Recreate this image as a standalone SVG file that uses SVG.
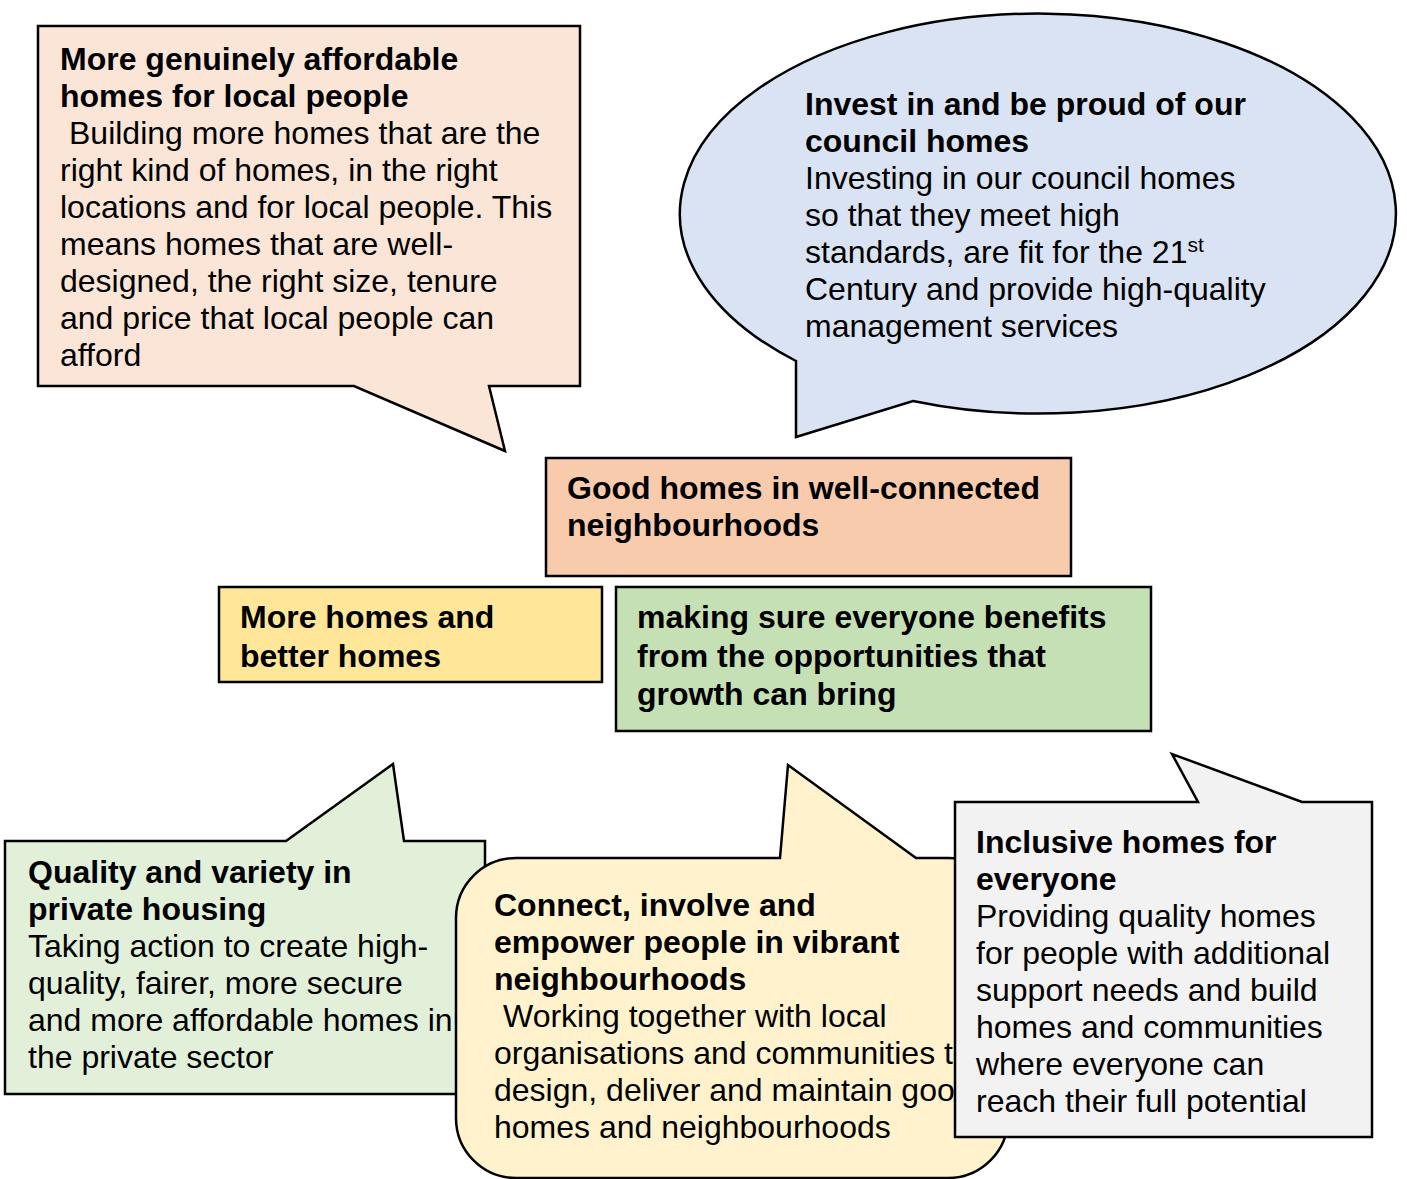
<svg xmlns="http://www.w3.org/2000/svg" width="1407" height="1179" viewBox="0 0 1407 1179">
  <style>
    .shape { stroke: #000; stroke-width: 2.5; stroke-linejoin: miter; }
    .t { font-family: "Liberation Sans", Arial, sans-serif; font-size: 32px; fill: #000; }
    .b { font-weight: bold; }
  </style>
  <rect width="1407" height="1179" fill="#fff"/>

  <!-- callout: affordable homes -->
  <g id="affordable-homes">
    <path class="shape" fill="#FBE5D6" d="M38,26 L580,26 L580,386 L489,386 L505,451 L354,386 L38,386 Z"/>
    <text class="t b" x="60" y="70">More genuinely affordable</text>
    <text class="t b" x="60" y="107">homes for local people</text>
    <text class="t" x="69" y="144">Building more homes that are the</text>
    <text class="t" x="60" y="181">right kind of homes, in the right</text>
    <text class="t" x="60" y="218">locations and for local people. This</text>
    <text class="t" x="60" y="255">means homes that are well-</text>
    <text class="t" x="60" y="292">designed, the right size, tenure</text>
    <text class="t" x="60" y="329">and price that local people can</text>
    <text class="t" x="60" y="366">afford</text>
  </g>

  <!-- speech bubble: council homes -->
  <g id="council-homes">
    <path class="shape" fill="#DAE3F3" d="M796,361 A358,200 0 1 1 913,401 L796,437 Z"/>
    <text class="t b" x="805" y="115">Invest in and be proud of our</text>
    <text class="t b" x="805" y="152">council homes</text>
    <text class="t" x="805" y="189">Investing in our council homes</text>
    <text class="t" x="805" y="226">so that they meet high</text>
    <text class="t" x="805" y="263">standards, are fit for the 21<tspan font-size="21" dy="-11">st</tspan></text>
    <text class="t" x="805" y="300">Century and provide high-quality</text>
    <text class="t" x="805" y="337">management services</text>
  </g>

  <!-- central theme -->
  <g id="good-homes">
    <rect class="shape" fill="#F8CBAD" x="546" y="458" width="525" height="118"/>
    <text class="t b" x="567" y="499">Good homes in well-connected</text>
    <text class="t b" x="567" y="536">neighbourhoods</text>
  </g>

  <g id="more-homes">
    <rect class="shape" fill="#FFE699" x="219" y="587" width="383" height="95"/>
    <text class="t b" x="240" y="628">More homes and</text>
    <text class="t b" x="240" y="667">better homes</text>
  </g>

  <g id="everyone-benefits">
    <rect class="shape" fill="#C5E0B4" x="616" y="587" width="535" height="144"/>
    <text class="t b" x="637" y="628">making sure everyone benefits</text>
    <text class="t b" x="637" y="667">from the opportunities that</text>
    <text class="t b" x="637" y="705">growth can bring</text>
  </g>

  <!-- callout: private housing -->
  <g id="private-housing">
    <path class="shape" fill="#E2F0D9" d="M5,841 L286,841 L393,764 L404,841 L485,841 L485,1094 L5,1094 Z"/>
    <text class="t b" x="28" y="883">Quality and variety in</text>
    <text class="t b" x="28" y="920">private housing</text>
    <text class="t" x="28" y="957">Taking action to create high-</text>
    <text class="t" x="28" y="994">quality, fairer, more secure</text>
    <text class="t" x="28" y="1031">and more affordable homes in</text>
    <text class="t" x="28" y="1068">the private sector</text>
  </g>

  <!-- rounded callout: neighbourhoods -->
  <g id="vibrant-neighbourhoods">
    <path class="shape" fill="#FFF2CC" d="M456,918 A60,60 0 0 1 516,858 L780,858 L788,765 L916,858 L948,858 A60,60 0 0 1 1008,918 L1008,1118 A60,60 0 0 1 948,1178 L516,1178 A60,60 0 0 1 456,1118 Z"/>
    <text class="t b" x="494" y="916">Connect, involve and</text>
    <text class="t b" x="494" y="953">empower people in vibrant</text>
    <text class="t b" x="494" y="990">neighbourhoods</text>
    <text class="t" x="503" y="1027">Working together with local</text>
    <text class="t" x="494" y="1064">organisations and communities to</text>
    <text class="t" x="494" y="1101">design, deliver and maintain good</text>
    <text class="t" x="494" y="1138">homes and neighbourhoods</text>
  </g>

  <!-- callout: inclusive homes -->
  <g id="inclusive-homes">
    <path class="shape" fill="#F2F2F2" d="M955,802 L1198,802 L1172,754 L1302,802 L1372,802 L1372,1137 L955,1137 Z"/>
    <text class="t b" x="976" y="853">Inclusive homes for</text>
    <text class="t b" x="976" y="890">everyone</text>
    <text class="t" x="976" y="927">Providing quality homes</text>
    <text class="t" x="976" y="964">for people with additional</text>
    <text class="t" x="976" y="1001">support needs and build</text>
    <text class="t" x="976" y="1038">homes and communities</text>
    <text class="t" x="976" y="1075">where everyone can</text>
    <text class="t" x="976" y="1112">reach their full potential</text>
  </g>

  <g id="connectors"/>
</svg>
